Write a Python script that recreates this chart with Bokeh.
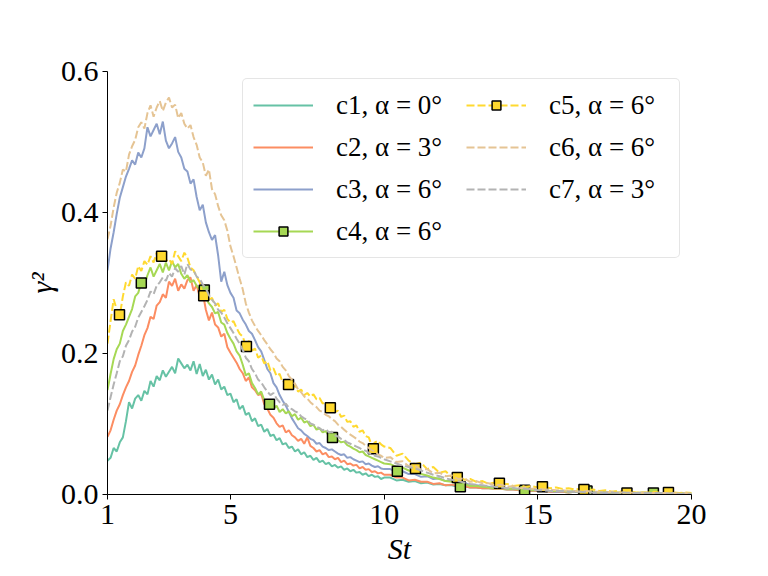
import numpy as np
from bokeh.plotting import figure
from bokeh.models import Range1d, FixedTicker, NumeralTickFormatter, Legend, LegendItem
from bokeh.embed import file_html
from bokeh.resources import INLINE

# ---------------- data ----------------
# sampling: St = 1.0 ... 10.0 every 0.1, then 10.2 ... 20.0 every 0.2
head_start, head_step, head_n = 1.0, 0.1, 91
tail_start, tail_step, tail_n = 10.2, 0.2, 50

c1 = [0.048, 0.052, 0.066, 0.061, 0.074, 0.081, 0.104, 0.131, 0.122, 0.136,
      0.141, 0.133, 0.147, 0.142, 0.161, 0.153, 0.168, 0.162, 0.176, 0.167,
      0.174, 0.181, 0.172, 0.193, 0.186, 0.179, 0.184, 0.176, 0.189, 0.171,
      0.185, 0.168, 0.177, 0.163, 0.170, 0.156, 0.163, 0.149, 0.153, 0.141,
      0.143, 0.131, 0.135, 0.121, 0.126, 0.113, 0.116, 0.104, 0.108, 0.097,
      0.099, 0.089, 0.093, 0.083, 0.085, 0.077, 0.080, 0.071, 0.073, 0.066,
      0.068, 0.061, 0.064, 0.057, 0.060, 0.053, 0.055, 0.049, 0.052, 0.046,
      0.048, 0.043, 0.045, 0.040, 0.042, 0.038, 0.040, 0.035, 0.037, 0.033,
      0.035, 0.031, 0.032, 0.028, 0.030, 0.026, 0.028, 0.025, 0.026, 0.022,
      0.024,
      0.024, 0.020, 0.021, 0.018,
      0.019, 0.016, 0.017, 0.014, 0.015, 0.013, 0.013, 0.011, 0.012, 0.010,
      0.010, 0.009, 0.009, 0.008, 0.008, 0.007, 0.007, 0.006, 0.006, 0.005,
      0.005, 0.005, 0.004, 0.004, 0.004, 0.003, 0.004, 0.003, 0.003, 0.003,
      0.002, 0.003, 0.002, 0.002, 0.002, 0.002, 0.001, 0.002, 0.001, 0.001,
      0.001, 0.001, 0.001, 0.001, 0.001, 0.001]

c2 = [0.082, 0.091, 0.106, 0.119, 0.128, 0.141, 0.152, 0.161, 0.174, 0.183,
      0.198, 0.211, 0.226, 0.236, 0.252, 0.249, 0.268, 0.273, 0.284, 0.279,
      0.302, 0.296, 0.306, 0.289, 0.298, 0.292, 0.304, 0.308, 0.289, 0.297,
      0.281, 0.286, 0.262, 0.247, 0.258, 0.241, 0.237, 0.224, 0.228, 0.209,
      0.201, 0.194, 0.187, 0.178, 0.172, 0.161, 0.166, 0.152, 0.148, 0.141,
      0.143, 0.128, 0.122, 0.113, 0.109, 0.101, 0.096, 0.098, 0.088, 0.091,
      0.084, 0.081, 0.076, 0.079, 0.072, 0.081, 0.069, 0.066, 0.061, 0.063,
      0.057, 0.059, 0.053, 0.054, 0.050, 0.052, 0.046, 0.048, 0.043, 0.044,
      0.041, 0.042, 0.037, 0.039, 0.035, 0.036, 0.032, 0.033, 0.030, 0.031,
      0.028,
      0.028, 0.024, 0.024, 0.020,
      0.021, 0.018, 0.018, 0.015, 0.016, 0.013, 0.014, 0.012, 0.012, 0.010,
      0.010, 0.009, 0.009, 0.008, 0.008, 0.007, 0.007, 0.006, 0.006, 0.005,
      0.005, 0.005, 0.004, 0.004, 0.004, 0.003, 0.004, 0.003, 0.003, 0.003,
      0.002, 0.003, 0.002, 0.002, 0.002, 0.002, 0.002, 0.001, 0.002, 0.001,
      0.001, 0.001, 0.001, 0.001, 0.001, 0.001]

c3 = [0.318, 0.349, 0.372, 0.398, 0.421, 0.436, 0.451, 0.462, 0.474, 0.468,
      0.485, 0.478, 0.491, 0.521, 0.508, 0.517, 0.526, 0.511, 0.529, 0.502,
      0.491, 0.498, 0.507, 0.486, 0.478, 0.462, 0.458, 0.441, 0.447, 0.422,
      0.403, 0.411, 0.386, 0.372, 0.361, 0.368, 0.339, 0.302, 0.316, 0.297,
      0.286, 0.279, 0.261, 0.257, 0.248, 0.241, 0.232, 0.228, 0.219, 0.209,
      0.203, 0.191, 0.178, 0.172, 0.158, 0.152, 0.141, 0.133, 0.126, 0.117,
      0.108, 0.101, 0.094, 0.091, 0.086, 0.083, 0.079, 0.077, 0.072, 0.073,
      0.068, 0.066, 0.063, 0.064, 0.061, 0.058, 0.056, 0.057, 0.052, 0.053,
      0.050, 0.048, 0.046, 0.047, 0.043, 0.044, 0.041, 0.039, 0.040, 0.037,
      0.036,
      0.036, 0.032, 0.033, 0.029,
      0.029, 0.025, 0.026, 0.022, 0.023, 0.019, 0.020, 0.016, 0.017, 0.013,
      0.013, 0.012, 0.011, 0.010, 0.010, 0.008, 0.009, 0.007, 0.007, 0.006,
      0.006, 0.005, 0.005, 0.004, 0.005, 0.004, 0.004, 0.003, 0.003, 0.003,
      0.003, 0.002, 0.003, 0.002, 0.002, 0.002, 0.002, 0.001, 0.002, 0.001,
      0.001, 0.001, 0.001, 0.001, 0.001, 0.001]

c4 = [0.148, 0.171, 0.192, 0.206, 0.214, 0.232, 0.241, 0.252, 0.263, 0.281,
      0.286, 0.301, 0.297, 0.311, 0.322, 0.309, 0.318, 0.327, 0.315, 0.329,
      0.318, 0.331, 0.322, 0.327, 0.313, 0.306, 0.311, 0.301, 0.304, 0.296,
      0.291, 0.288, 0.279, 0.271, 0.266, 0.257, 0.259, 0.244, 0.241, 0.229,
      0.221, 0.214, 0.203, 0.197, 0.184, 0.169, 0.172, 0.158, 0.151, 0.142,
      0.146, 0.134, 0.128, 0.131, 0.122, 0.126, 0.117, 0.121, 0.115, 0.118,
      0.111, 0.114, 0.106, 0.109, 0.102, 0.104, 0.097, 0.099, 0.092, 0.094,
      0.088, 0.090, 0.083, 0.081, 0.079, 0.077, 0.074, 0.075, 0.070, 0.068,
      0.065, 0.063, 0.060, 0.061, 0.056, 0.054, 0.052, 0.050, 0.048, 0.046,
      0.044,
      0.043, 0.039, 0.038, 0.034,
      0.032, 0.029, 0.027, 0.024, 0.022, 0.019, 0.018, 0.015, 0.015, 0.012,
      0.012, 0.011, 0.010, 0.009, 0.009, 0.008, 0.008, 0.007, 0.007, 0.006,
      0.006, 0.006, 0.005, 0.005, 0.005, 0.004, 0.005, 0.004, 0.004, 0.004,
      0.003, 0.004, 0.003, 0.003, 0.003, 0.003, 0.002, 0.003, 0.002, 0.002,
      0.002, 0.002, 0.002, 0.002, 0.002, 0.002]

c5 = [0.214, 0.246, 0.277, 0.262, 0.254, 0.281, 0.301, 0.296, 0.312, 0.306,
      0.324, 0.317, 0.331, 0.326, 0.338, 0.329, 0.343, 0.337, 0.339, 0.331,
      0.334, 0.327, 0.345, 0.338, 0.331, 0.343, 0.336, 0.322, 0.318, 0.309,
      0.301, 0.283, 0.288, 0.276, 0.279, 0.268, 0.271, 0.259, 0.262, 0.249,
      0.244, 0.246, 0.236, 0.228, 0.224, 0.211, 0.218, 0.204, 0.207, 0.194,
      0.197, 0.186, 0.189, 0.176, 0.179, 0.168, 0.171, 0.159, 0.163, 0.156,
      0.152, 0.154, 0.146, 0.149, 0.141, 0.144, 0.139, 0.142, 0.135, 0.137,
      0.129, 0.131, 0.124, 0.126, 0.117, 0.119, 0.110, 0.112, 0.103, 0.104,
      0.096, 0.098, 0.089, 0.091, 0.083, 0.081, 0.069, 0.074, 0.076, 0.071,
      0.068,
      0.066, 0.055, 0.058, 0.048,
      0.043, 0.045, 0.036, 0.039, 0.031, 0.033, 0.025, 0.027, 0.021, 0.022,
      0.018, 0.019, 0.015, 0.017, 0.014, 0.015, 0.012, 0.013, 0.011, 0.012,
      0.010, 0.011, 0.009, 0.010, 0.008, 0.009, 0.007, 0.008, 0.006, 0.007,
      0.005, 0.006, 0.004, 0.005, 0.003, 0.004, 0.003, 0.003, 0.003, 0.004,
      0.002, 0.003, 0.003, 0.002, 0.003, 0.002]

c6 = [0.362, 0.381, 0.407, 0.428, 0.442, 0.461, 0.458, 0.482, 0.494, 0.503,
      0.521, 0.528, 0.519, 0.541, 0.552, 0.536, 0.549, 0.558, 0.544, 0.556,
      0.563, 0.549, 0.553, 0.534, 0.541, 0.526, 0.519, 0.524, 0.507, 0.496,
      0.478, 0.471, 0.452, 0.461, 0.433, 0.426, 0.409, 0.396, 0.389, 0.374,
      0.352, 0.338, 0.322, 0.306, 0.291, 0.271, 0.258, 0.247, 0.239, 0.232,
      0.226, 0.219, 0.213, 0.206, 0.201, 0.193, 0.189, 0.181, 0.176, 0.168,
      0.163, 0.157, 0.149, 0.145, 0.139, 0.136, 0.131, 0.127, 0.124, 0.119,
      0.117, 0.113, 0.111, 0.107, 0.104, 0.099, 0.096, 0.092, 0.088, 0.085,
      0.082, 0.079, 0.075, 0.073, 0.069, 0.066, 0.063, 0.061, 0.057, 0.055,
      0.052,
      0.053, 0.046, 0.047, 0.040,
      0.041, 0.035, 0.036, 0.030, 0.031, 0.026, 0.027, 0.022, 0.023, 0.018,
      0.019, 0.016, 0.016, 0.013, 0.014, 0.011, 0.012, 0.009, 0.010, 0.008,
      0.008, 0.007, 0.007, 0.006, 0.006, 0.005, 0.005, 0.004, 0.005, 0.004,
      0.004, 0.003, 0.004, 0.003, 0.003, 0.003, 0.002, 0.003, 0.002, 0.002,
      0.002, 0.002, 0.002, 0.001, 0.002, 0.001]

c7 = [0.119, 0.138, 0.156, 0.172, 0.189, 0.196, 0.211, 0.219, 0.231, 0.238,
      0.251, 0.259, 0.267, 0.276, 0.288, 0.284, 0.296, 0.301, 0.308, 0.303,
      0.314, 0.309, 0.321, 0.316, 0.324, 0.312, 0.327, 0.319, 0.318, 0.309,
      0.306, 0.298, 0.292, 0.283, 0.276, 0.271, 0.262, 0.258, 0.251, 0.243,
      0.236, 0.229, 0.221, 0.214, 0.205, 0.194, 0.189, 0.178, 0.172, 0.163,
      0.159, 0.152, 0.146, 0.141, 0.144, 0.136, 0.131, 0.127, 0.129, 0.123,
      0.121, 0.118, 0.116, 0.111, 0.108, 0.106, 0.101, 0.099, 0.096, 0.094,
      0.091, 0.093, 0.088, 0.089, 0.084, 0.082, 0.079, 0.077, 0.074, 0.072,
      0.070, 0.068, 0.066, 0.063, 0.062, 0.059, 0.057, 0.055, 0.054, 0.052,
      0.050,
      0.047, 0.044, 0.041, 0.039,
      0.037, 0.034, 0.031, 0.028, 0.026, 0.023, 0.021, 0.019, 0.017, 0.015,
      0.014, 0.013, 0.012, 0.011, 0.010, 0.009, 0.009, 0.008, 0.008, 0.007,
      0.006, 0.006, 0.005, 0.005, 0.005, 0.004, 0.004, 0.004, 0.003, 0.003,
      0.003, 0.003, 0.003, 0.002, 0.003, 0.002, 0.002, 0.002, 0.002, 0.002,
      0.002, 0.001, 0.002, 0.001, 0.001, 0.001]

# marker samples
c4_mark_x = [2.10, 4.15, 6.27, 8.32, 10.43, 12.48, 14.57, 16.60, 18.76]
c4_mark_y = [0.300, 0.290, 0.128, 0.081, 0.033, 0.011, 0.006, 0.005, 0.002]
c5_mark_x = [1.39, 2.76, 4.13, 5.52, 6.89, 8.25, 9.65, 11.02, 12.38, 13.75, 15.15, 16.50, 17.90, 19.25]
c5_mark_y = [0.255, 0.338, 0.282, 0.210, 0.156, 0.123, 0.065, 0.037, 0.024, 0.016, 0.011, 0.007, 0.002, 0.003]

labels = ["c1, α = 0°", "c2, α = 3°", "c3, α = 6°", "c4, α = 6°",
          "c5, α = 6°", "c6, α = 6°", "c7, α = 3°"]
colors = ["#66c2a5", "#fc8d62", "#8da0cb", "#a6d854", "#ffd92f", "#e5c494", "#b3b3b3"]
dashes = ["solid", "solid", "solid", "solid", "8 3", "8 3", "8 3"]

x_ticks = [1, 5, 10, 15, 20]
y_ticks = [0.0, 0.2, 0.4, 0.6]

x_grid = np.concatenate([np.round(head_start + head_step * np.arange(head_n), 3),
                         np.round(tail_start + tail_step * np.arange(tail_n), 3)])

# ---------------- figure ----------------
FONT = "Liberation Serif"
p = figure(width=768, height=576, output_backend="svg", toolbar_location=None,
           x_range=Range1d(1, 20), y_range=Range1d(0, 0.6),
           min_border_left=107, min_border_right=77, min_border_top=71, min_border_bottom=82)
p.outline_line_color = None
p.xgrid.visible = False
p.ygrid.visible = False
p.background_fill_color = "white"
p.border_fill_color = "white"

for ax in (p.xaxis[0], p.yaxis[0]):
    ax.major_tick_out = 5
    ax.major_tick_in = 0
    ax.minor_tick_out = 0
    ax.minor_tick_in = 0
    ax.axis_line_color = "black"
    ax.axis_line_width = 1
    ax.major_tick_line_color = "black"
    ax.major_label_text_font = FONT
    ax.major_label_text_font_size = "30px"
    ax.major_label_text_color = "black"
    ax.axis_label_text_font = FONT
    ax.axis_label_text_font_size = "30px"
    ax.axis_label_text_font_style = "italic"
    ax.axis_label_text_color = "black"

p.xaxis.ticker = FixedTicker(ticks=x_ticks)
p.yaxis.ticker = FixedTicker(ticks=y_ticks)
p.yaxis.formatter = NumeralTickFormatter(format="0.0")
p.xaxis.axis_label = "St"
p.yaxis.axis_label = "γ²"
p.xaxis.major_label_standoff = 5
p.yaxis.major_label_standoff = 4
p.xaxis.axis_label_standoff = 5
p.yaxis.axis_label_standoff = 0

series = [c1, c2, c3, c4, c5, c6, c7]
items = []
for i, (vals, lab, col, dash) in enumerate(zip(series, labels, colors, dashes)):
    xs = x_grid[:len(vals)]
    r = p.line(xs, vals[:len(xs)], line_color=col, line_width=2, line_dash=dash)
    rends = [r]
    if i == 3:
        m = p.scatter(c4_mark_x, c4_mark_y, marker="square", size=10,
                      fill_color=col, line_color="black", line_width=1.5)
        rends.append(m)
    if i == 4:
        m = p.scatter(c5_mark_x, c5_mark_y, marker="square", size=10,
                      fill_color=col, line_color="black", line_width=1.5)
        rends.append(m)
    items.append(LegendItem(label=lab, renderers=rends))

legend = Legend(items=items, location=(135, 236), ncols=2,
                label_text_font=FONT, label_text_font_size="27px",
                label_text_color="black",
                glyph_width=60, glyph_height=22, label_height=32, label_width=120,
                label_standoff=23, spacing=10, padding=10, margin=0,
                border_line_color="#cccccc", border_line_width=1,
                background_fill_color="white", background_fill_alpha=0.8)
if "border_radius" in Legend.properties():
    legend.border_radius = 5
p.add_layout(legend, "center")

open("out.html", "w").write(file_html(p, INLINE))
